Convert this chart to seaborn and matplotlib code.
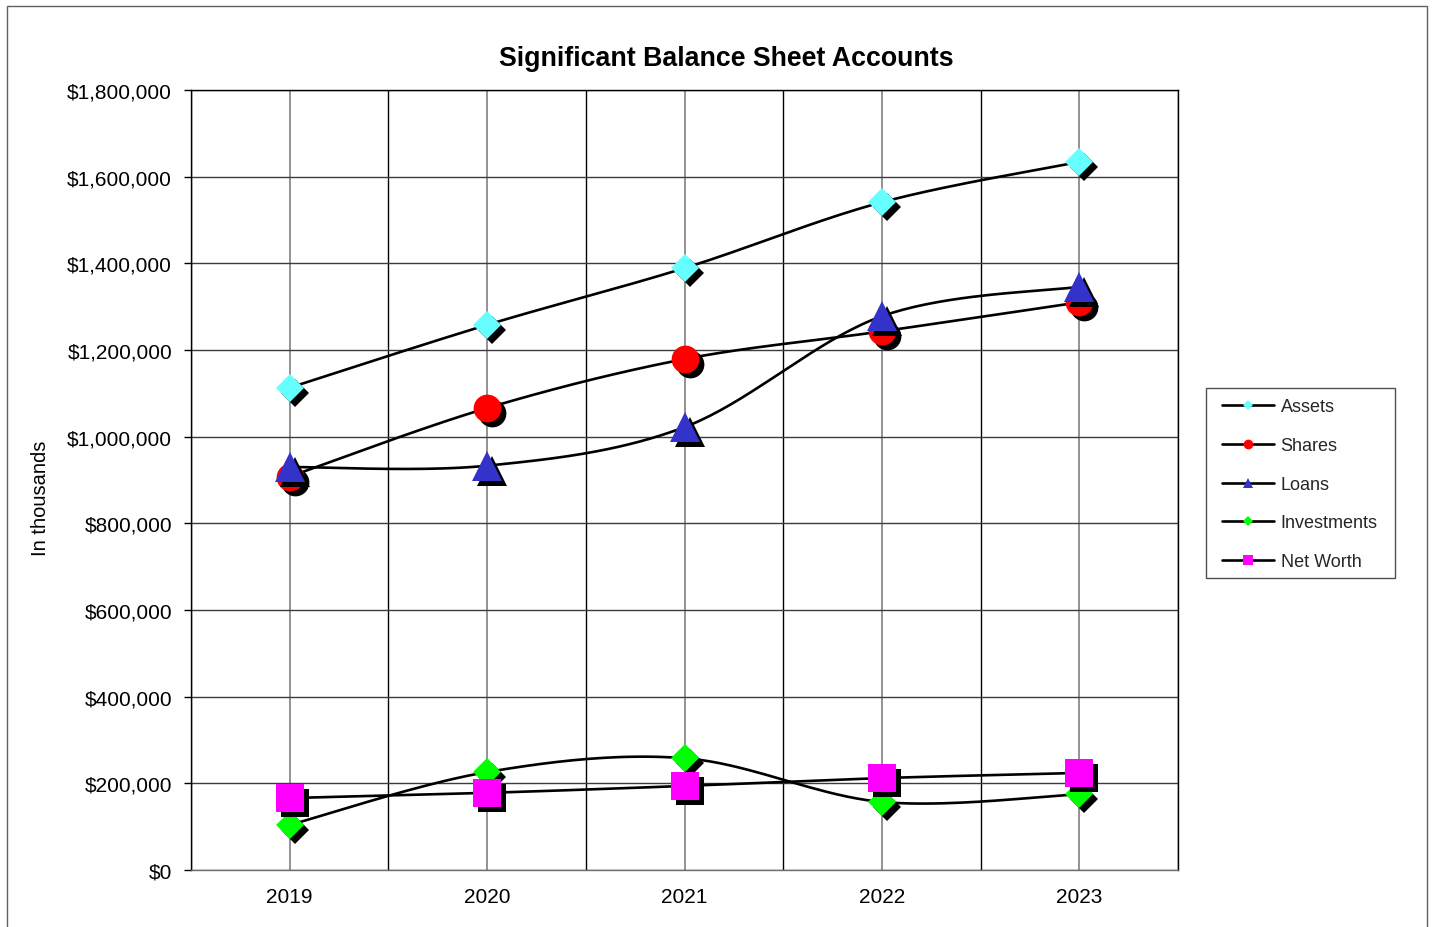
import numpy as np
import pandas as pd
import matplotlib
matplotlib.use("Agg")
import matplotlib.pyplot as plt
import matplotlib.transforms as mtransforms
from matplotlib.lines import Line2D
from matplotlib.patches import Rectangle
from matplotlib.ticker import FuncFormatter
import seaborn as sns

# ---------------- data ----------------
years = ["2019", "2020", "2021", "2022", "2023"]
assets = [1113000, 1258000, 1389000, 1541000, 1634000]
shares = [908000, 1066000, 1179000, 1243000, 1310000]
loans = [930000, 933000, 1022000, 1278000, 1346000]
investments = [104000, 226000, 258000, 157000, 175000]
net_worth = [166000, 178000, 194000, 212000, 224000]

series_names = ["Assets", "Shares", "Loans", "Investments", "Net Worth"]
series_values = [assets, shares, loans, investments, net_worth]
colors = ["#66FFFF", "#FF0000", "#3333CC", "#00FF00", "#FF00FF"]
markers = ["D", "o", "^", "D", "s"]
marker_sizes = [14.3, 20, 21, 14.3, 20]
legend_marker_sizes = [5.2, 7.0, 7.4, 5.2, 7.0]


def smooth(xs, ys, n=40):
    """Excel-like smoothed line (Catmull-Rom style cubic Bezier)."""
    P = np.column_stack([np.asarray(xs, float), np.asarray(ys, float)])
    Pext = np.vstack([P[0], P, P[-1]])
    t = np.linspace(0, 1, n)[:, None]
    out = []
    for i in range(len(P) - 1):
        p0, p3 = P[i], P[i + 1]
        c1 = p0 + (Pext[i + 2] - Pext[i]) / 6.0
        c2 = p3 - (Pext[i + 3] - Pext[i + 1]) / 6.0
        seg = (1 - t) ** 3 * p0 + 3 * (1 - t) ** 2 * t * c1 + 3 * (1 - t) * t ** 2 * c2 + t ** 3 * p3
        out.append(seg if i == 0 else seg[1:])
    return np.vstack(out)


sns.set_style("white")
plt.rcParams["font.family"] = ["Liberation Sans", "DejaVu Sans"]

W, H = 1434, 928
fig = plt.figure(figsize=(W / 100, H / 100), dpi=100)
fig.patch.set_facecolor("white")
ax = fig.add_axes([191 / W, 1 - 871 / H, (1178 - 191) / W, (871 - 91) / H])

xpos = np.arange(len(years))

# smoothed curves
frames = []
for name, vals in zip(series_names, series_values):
    c = smooth(xpos, vals)
    frames.append(pd.DataFrame({"x": c[:, 0], "y": c[:, 1], "series": name}))
curves = pd.concat(frames, ignore_index=True)
sns.lineplot(data=curves, x="x", y="y", units="series", estimator=None, sort=False,
             color="black", linewidth=1.9, legend=False, ax=ax, zorder=3)

shadow = ax.transData + mtransforms.ScaledTranslation(5 / 100, -5 / 100, fig.dpi_scale_trans)
for i, (vals, col, mk, ms) in enumerate(zip(series_values, colors, markers, marker_sizes)):
    ax.plot(xpos, vals, linestyle="none", marker=mk, markersize=ms, markerfacecolor="black",
            markeredgewidth=0, transform=shadow, zorder=4 + 2 * i, clip_on=False)
    ax.plot(xpos, vals, linestyle="none", marker=mk, markersize=ms, markerfacecolor=col,
            markeredgewidth=0, zorder=5 + 2 * i, clip_on=False)

# axes styling
ax.set_xlim(-0.5, 4.5)
ax.set_ylim(0, 1800000)
ax.set_xticks(xpos)
ax.set_xticklabels(years)
ax.set_xticks(np.arange(-0.5, 5.0, 1.0), minor=True)
ax.set_yticks(np.arange(0, 1800001, 200000))
ax.yaxis.set_major_formatter(FuncFormatter(lambda v, p: "${:,.0f}".format(v)))
ax.set_xlabel("")
ax.set_ylabel("")

ax.tick_params(axis="x", which="major", length=0, pad=12, labelsize=15, labelcolor="black")
ax.tick_params(axis="x", which="minor", length=5.5, width=1, color="black", direction="out")
ax.tick_params(axis="y", which="major", length=5, width=1, color="black", direction="out",
               pad=8.6, labelsize=15, labelcolor="black", left=True)

ax.set_axisbelow(True)
ax.grid(axis="x", which="major", color="#808080", linewidth=1.2)
ax.grid(axis="x", which="minor", color="black", linewidth=1)
ax.grid(axis="y", which="major", color="#3c3c3c", linewidth=1)

for s in ["left", "top", "right"]:
    ax.spines[s].set_color("black")
    ax.spines[s].set_linewidth(1)
    ax.spines[s].set_visible(True)
ax.spines["bottom"].set_color("#707070")
ax.spines["bottom"].set_linewidth(1)
ax.spines["bottom"].set_visible(True)

# texts
fig.text(726 / W, 1 - 66.5 / H, "Significant Balance Sheet Accounts", ha="center", va="baseline",
         fontsize=19.3, fontweight="bold", color="black")
fig.text(40 / W, 1 - 498 / H, "In thousands", rotation=90, ha="center", va="center",
         fontsize=14.5, color="black")

# outer chart frame
fig.patches.append(Rectangle((7 / W, -0.02), (1427 - 7) / W, 1 - 7 / H + 0.02, transform=fig.transFigure,
                             fill=False, edgecolor="#606060", linewidth=1))
# legend frame
fig.patches.append(Rectangle((1206 / W, 1 - 579 / H), (1395 - 1206) / W, (579 - 389) / H,
                             transform=fig.transFigure, fill=True, facecolor="white",
                             edgecolor="#505050", linewidth=1, zorder=1))

handles = [Line2D([0], [0], color="black", linewidth=1.9, marker=mk, markersize=lms,
                  markerfacecolor=col, markeredgewidth=0)
           for mk, lms, col in zip(markers, legend_marker_sizes, colors)]
leg = fig.legend(handles, series_names, loc="upper left", bbox_to_anchor=(1222 / W, 1 - 399.5 / H),
                 frameon=False, borderpad=0, fontsize=13, handlelength=2.9, handletextpad=0.35,
                 labelspacing=1.2, borderaxespad=0)
leg.set_zorder(5)

fig.savefig("out.png", dpi=100, facecolor="white")
